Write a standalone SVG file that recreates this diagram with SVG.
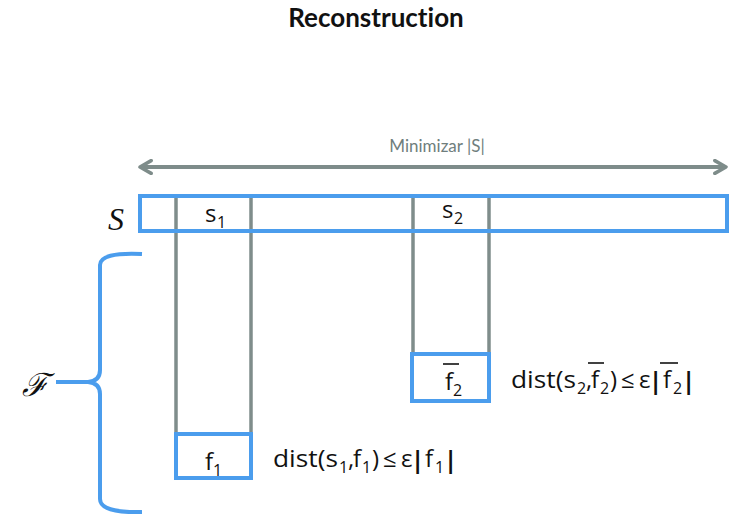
<svg xmlns="http://www.w3.org/2000/svg" width="730" height="516" viewBox="0 0 730 516">
<defs>
<marker id="ah" viewBox="0 0 10 10" refX="8" refY="5" markerWidth="4" markerHeight="4" orient="auto-start-reverse" markerUnits="strokeWidth">
<path d="M1,1 L8,5 L1,9" fill="none" stroke="#7e8c8a" stroke-width="2.2" stroke-linecap="round" stroke-linejoin="round"/>
</marker>
<style>
text{font-variant-ligatures:none}
.blue{fill:#fff;stroke:#4b9ded;stroke-width:4}
.gray{stroke:#7f8d8b;stroke-width:3.5;fill:none}
.t{font-family:"Open Sans",Lato,sans-serif;fill:#111;font-size:24px}
.sub{font-size:16px}
.bar{font-weight:bold}
.ov{stroke:#111;stroke-width:1.6}
</style>
</defs>
<rect width="730" height="516" fill="#fff"/>
<text x="376" y="27" font-family="Lato,'Open Sans',sans-serif" font-size="26" font-weight="bold" fill="#111" text-anchor="middle">Reconstruction</text>

<g id="connectors">
<line x1="140" y1="167" x2="726" y2="167" stroke="#7e8c8a" stroke-width="4" marker-start="url(#ah)" marker-end="url(#ah)"/>
<text x="437" y="152" font-family="Lato,'Open Sans',sans-serif" font-size="17" fill="#6f7e7d" text-anchor="middle">Minimizar |S|</text>
</g>

<g id="columns">
<line class="gray" x1="176" y1="197" x2="176" y2="433"/>
<line class="gray" x1="251" y1="197" x2="251" y2="433"/>
<line class="gray" x1="413" y1="197" x2="413" y2="353"/>
<line class="gray" x1="489" y1="197" x2="489" y2="353"/>
</g>

<g id="S">
<rect x="140" y="196" width="587" height="35" fill="none" stroke="#4b9ded" stroke-width="4"/>
<text class="t" x="205" y="222">s<tspan class="sub" x="217" y="228">1</tspan></text>
<text class="t" x="442" y="218">s<tspan class="sub" x="454" y="224">2</tspan></text>
<text x="108" y="230" font-family="'Liberation Serif',serif" font-style="italic" font-size="32" fill="#111">S</text>
</g>

<g id="f2">
<rect class="blue" x="412" y="354" width="77" height="47"/>
<text class="t" x="445" y="390">f<tspan class="sub" x="453" y="396">2</tspan></text>
<line class="ov" x1="443" y1="364" x2="459" y2="364"/>
<text class="t" y="388"><tspan x="511" textLength="65" lengthAdjust="spacingAndGlyphs">dist(s</tspan><tspan class="sub" x="577" y="394">2</tspan><tspan x="586" y="388">,</tspan><tspan x="591">f</tspan><tspan class="sub" x="600" y="394">2</tspan><tspan x="610" y="388">)</tspan><tspan x="621">≤</tspan><tspan x="639">ε</tspan><tspan class="bar" x="649" y="389">|</tspan><tspan x="663" y="388">f</tspan><tspan class="sub" x="673" y="394">2</tspan><tspan class="bar" x="682" y="389">|</tspan></text>
<line class="ov" x1="588" y1="363" x2="604" y2="363"/>
<line class="ov" x1="660" y1="363" x2="678" y2="363"/>
</g>

<g id="f1">
<rect class="blue" x="176" y="434" width="75" height="44"/>
<text class="t" x="205" y="470">f<tspan class="sub" x="213" y="476">1</tspan></text>
<text class="t" y="467"><tspan x="273" textLength="65" lengthAdjust="spacingAndGlyphs">dist(s</tspan><tspan class="sub" x="339" y="473">1</tspan><tspan x="348" y="467">,</tspan><tspan x="353">f</tspan><tspan class="sub" x="362" y="473">1</tspan><tspan x="372" y="467">)</tspan><tspan x="383">≤</tspan><tspan x="401">ε</tspan><tspan class="bar" x="411" y="468">|</tspan><tspan x="425" y="467">f</tspan><tspan class="sub" x="435" y="473">1</tspan><tspan class="bar" x="444" y="468">|</tspan></text>
</g>

<g id="F">
<path d="M142,254 Q100,252 100,265 L100,370 Q100,381 88,382 L56,382 M88,382 Q100,383 100,394 L100,499 Q100,513 142,512" fill="none" stroke="#4b9ded" stroke-width="4"/>
<text x="22" y="396" font-family="'DejaVu Serif',serif" font-style="italic" font-size="32" fill="#111">ℱ</text>
</g>
</svg>
